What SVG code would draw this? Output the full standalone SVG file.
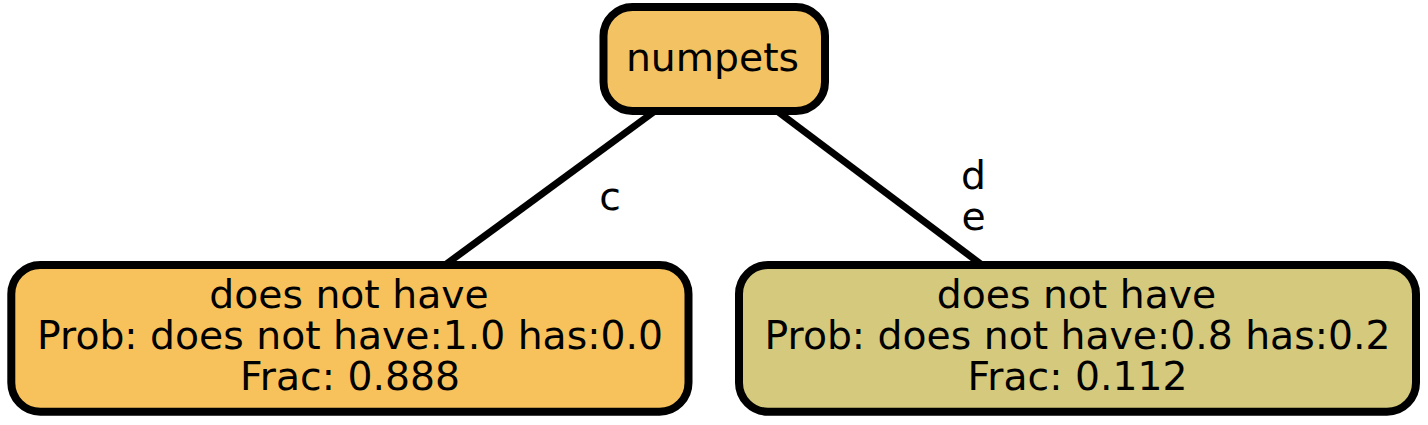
<svg xmlns="http://www.w3.org/2000/svg" width="1428" height="425" viewBox="0 0 1428 425">
<style>
.node rect { stroke: #000; stroke-width: 8; }
.edge { stroke: #000; stroke-width: 7; fill: none; }
text { font-family: "DejaVu Sans", sans-serif; font-size: 39.3px; fill: #000; text-anchor: middle; }
</style>
<rect width="1428" height="425" fill="#fff"/>
<g id="edges">
<line class="edge" x1="655" y1="111" x2="445" y2="265"/>
<line class="edge" x1="777" y1="111" x2="982" y2="265"/>
<text x="610" y="210">c</text>
<text x="973.5" y="188.7">d</text>
<text x="973.5" y="230">e</text>
</g>
<g id="node_numpets" class="node">
<rect x="603.5" y="7" width="221.5" height="104" rx="29" ry="29" fill="#f3c262"/>
<text x="712.5" y="70.7">numpets</text>
</g>
<g id="node_left" class="node">
<rect x="11.3" y="265" width="677.2" height="146.7" rx="29" ry="29" fill="#f7c25c"/>
<text x="349" y="307.7">does not have</text>
<text x="350" y="349">Prob: does not have:1.0 has:0.0</text>
<text x="350" y="390.3">Frac: 0.888</text>
</g>
<g id="node_right" class="node">
<rect x="739" y="265" width="677" height="146.7" rx="29" ry="29" fill="#d4c97d"/>
<text x="1076.5" y="307.7">does not have</text>
<text x="1077.5" y="349">Prob: does not have:0.8 has:0.2</text>
<text x="1077.5" y="390.3">Frac: 0.112</text>
</g>
</svg>
